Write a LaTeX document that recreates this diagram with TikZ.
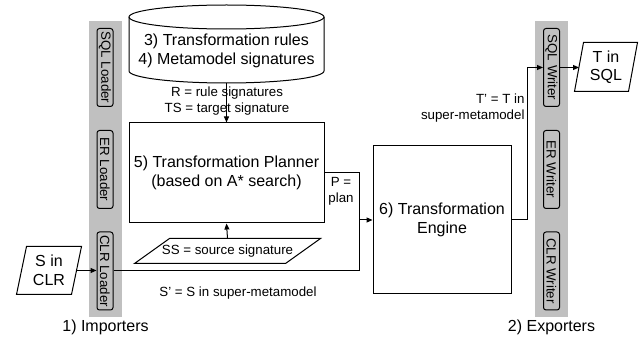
\documentclass[tikz,border=0pt]{standalone}
\usepackage{fontspec}
\setmainfont{Liberation Sans}
\usetikzlibrary{arrows.meta}
\definecolor{bargray}{RGB}{192,192,192}
\newcommand{\bigtxt}{\fontsize{16}{18.5}\selectfont}
\newcommand{\smalltxt}{\fontsize{13.3}{16}\selectfont}
% slanted outline round a data node
\newcommand{\paraline}[2]{\draw ([xshift=-#2]#1.south west) -- ([xshift=#2]#1.north west) -- ([xshift=#2]#1.north east) -- ([xshift=-#2]#1.south east) -- cycle;}

\begin{document}
\begin{tikzpicture}[x=1pt,y=-1pt,line width=1pt,>={Triangle[length=6pt,width=5pt]},
  bar/.style={fill=bargray,minimum width=33pt,minimum height=296pt,inner sep=0pt},
  tool/.style={draw,rounded corners=2.5pt,rotate=-90,minimum width=78pt,minimum height=16pt,inner sep=0pt,font=\smalltxt},
  proc/.style={draw,align=center,inner sep=0pt,font=\bigtxt},
  data/.style={minimum width=54pt,minimum height=47pt,inner sep=0pt,align=center,font=\bigtxt},
  lbl/.style={align=center,inner sep=0pt,font=\smalltxt}]
  \useasboundingbox (0,0) rectangle (641,339);
  % importers and exporters
  \node[bar] (importers) at (105.5,169) {};
  \node[bar] (exporters) at (551.5,169) {};
  \node[tool] (sqlload) at (105,67.5) {SQL Loader};
  \node[tool] (erload) at (105,169.5) {ER Loader};
  \node[tool] (clrload) at (105,271) {CLR Loader};
  \node[tool] (sqlwrite) at (551.5,67.5) {SQL Writer};
  \node[tool] (erwrite) at (551.5,169.5) {ER Writer};
  \node[tool] (clrwrite) at (551.5,271) {CLR Writer};
  \node[font=\bigtxt] (implbl) at (105.5,327) {1) Importers};
  \node[font=\bigtxt] (explbl) at (551.5,327) {2) Exporters};
  % rule base
  \draw[fill=white] (129,17) -- (129,71) .. controls (129,77.6) and (172.7,83) .. (226.5,83)
    .. controls (280.3,83) and (324,77.6) .. (324,71) -- (324,17);
  \draw (226.5,17) ellipse [x radius=97.5,y radius=12];
  \node[align=center,font=\bigtxt] (rules) at (226.5,51) {3) Transformation rules\\4) Metamodel signatures};
  \coordinate (rulesbase) at (226.5,83);
  % planner and engine
  \node[proc,minimum width=195pt,minimum height=100pt] (planner) at (226.5,173) {5) Transformation Planner\\(based on A* search)};
  \node[proc,minimum width=138pt,minimum height=148pt] (engine) at (442,220) {6) Transformation\\Engine};
  % signatures and models
  \node[data,font=\smalltxt,minimum width=150pt,minimum height=24pt] (ss) at (227.5,251) {SS = source signature};
  \node[data] (scl) at (49,270.5) {S in\\CLR};
  \node[data,minimum width=53pt,minimum height=48pt] (tsql) at (606,67) {T in\\SQL};
  \paraline{ss}{17.5pt}
  \paraline{scl}{5pt}
  \paraline{tsql}{4.5pt}
  % labels
  \node[lbl] (rlbl) at (227,101) {R = rule signatures\\TS = target signature};
  \node[lbl] (plbl) at (341,191) {P =\\plan};
  \node[lbl] (slbl) at (238,293) {S' = S in super-metamodel};
  \node[lbl,anchor=east,align=right] (tlbl) at (525,108.5) {T' = T in\\super-metamodel};
  % connectors
  \coordinate (pjoin) at (359,220);
  \coordinate (tjoin) at (527,220);
  \draw[->] (rulesbase) -- (planner.north);
  \draw[->] (ss.north) -- (planner.south);
  \draw[->] (scl.east) -- (scl.east -| clrload.south);
  \draw (clrload.north) -| (pjoin);
  \draw[->] (planner.east) -| (pjoin) -- (engine.west);
  \draw[->] (engine.east) -- (tjoin) |- (sqlwrite.south);
  \draw[->] (sqlwrite.north) -- (sqlwrite.north -| tsql.west);
\end{tikzpicture}
\end{document}
